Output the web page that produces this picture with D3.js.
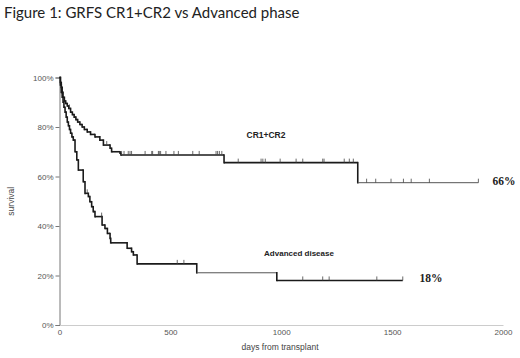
<!DOCTYPE html>
<meta charset="utf-8">
<style>
body { margin: 0; background: #fff; }
text { font-family: Arial, 'Liberation Sans', sans-serif; }
.axis text { font-size: 8px; fill: #555; }
</style>
<div class="chart"></div>
<script src="https://d3js.org/d3.v7.min.js"></script>
<script>
// Kaplan-Meier steps: day of drop, survival after drop
var crDays = [0, 4, 8, 12, 16, 22, 28, 35, 42, 50, 58, 66, 74, 82, 92, 102, 112, 125, 140, 160, 182, 198, 228, 235, 273, 277, 742, 1345];
var crSurv = [1, .98, .96, .94, .92, .905, .895, .885, .875, .86, .85, .84, .83, .82, .81, .80, .79, .78, .77, .76, .747, .727, .714, .70, .694, .687, .656, .575];
var crEnd = 1889;
var crCensor = [45, 213, 280, 291, 310, 318, 325, 386, 416, 420, 446, 450, 456, 480, 516, 536, 601, 630, 706, 713, 721, 732,
    806, 909, 917, 928, 995, 1067, 1097, 1187, 1193, 1284, 1307, 1325, 1385, 1426, 1495, 1551, 1586, 1668, 1889];

var advDays = [0, 4, 8, 12, 16, 20, 25, 30, 35, 40, 45, 50, 56, 62, 70, 78, 85, 107, 115, 130, 137, 145, 152, 160, 192, 205, 216, 228, 231, 305, 325, 333, 350, 619, 980];
var advSurv = [1, .97, .94, .92, .90, .88, .86, .84, .82, .805, .79, .775, .76, .747, .70, .667, .626, .579, .532, .519, .498, .478, .458, .438, .404, .39, .37, .35, .332, .31, .296, .283, .247, .211, .18];
var advEnd = 1548;
var advCensor = [125, 190, 531, 561, 1097, 1187, 1216, 1431, 1548];

var xTicks = [0, 500, 1000, 1500, 2000];
var yTicks = [0, .2, .4, .6, .8, 1];

var W = 520, H = 358;
var x = d3.scaleLinear().domain([0, 2000]).range([59.5, 503]);
var y = d3.scaleLinear().domain([0, 1]).range([325, 77.5]);

var svg = d3.select(".chart").append("svg")
    .attr("width", W)
    .attr("height", H);

svg.append("text")
    .attr("x", 4)
    .attr("y", 18)
    .style("font-family", "Lato, 'Open Sans', sans-serif")
    .style("font-size", "15px")
    .style("fill", "#222")
    .text("Figure 1: GRFS CR1+CR2 vs Advanced phase");

// axes
var yAxis = svg.append("g")
    .attr("class", "axis")
    .attr("transform", "translate(" + x(0) + ",0)")
    .call(d3.axisLeft(y).tickValues(yTicks).tickFormat(d3.format(".0%")).tickSize(4).tickPadding(2));
yAxis.select(".domain").attr("stroke", "#777");
yAxis.selectAll(".tick line").attr("stroke", "#777");

var xAxis = svg.append("g")
    .attr("class", "axis")
    .attr("transform", "translate(0," + y(0) + ")")
    .call(d3.axisBottom(x).tickValues(xTicks).tickFormat(d3.format("d")).tickSize(0).tickPadding(4));
xAxis.select(".domain").attr("stroke", "#ccc");

svg.append("text")
    .attr("x", 280)
    .attr("y", 350)
    .attr("text-anchor", "middle")
    .style("font-size", "8.5px")
    .style("fill", "#444")
    .text("days from transplant");

svg.append("text")
    .attr("transform", "translate(14," + (y(0.5)) + ") rotate(-90)")
    .attr("text-anchor", "middle")
    .style("font-size", "8.5px")
    .style("fill", "#444")
    .text("survival");

function survAt(days, surv, d) {
    var s = surv[0];
    for (var i = 0; i < days.length; i++) if (days[i] <= d) s = surv[i];
    return s;
}

function drawCurve(days, surv, end, censor, thinFrom, thinTo) {
    var g = svg.append("g");
    for (var i = 0; i < days.length; i++) {
        var d0 = days[i], d1 = i + 1 < days.length ? days[i + 1] : end;
        var thin = d0 >= thinFrom && d0 < thinTo;
        g.append("line")
            .attr("x1", x(d0)).attr("x2", x(d1))
            .attr("y1", y(surv[i])).attr("y2", y(surv[i]))
            .attr("stroke", thin ? "#555" : "#1a1a1a")
            .attr("stroke-width", thin ? 1 : 1.6);
        if (i + 1 < days.length) {
            g.append("line")
                .attr("x1", x(d1)).attr("x2", x(d1))
                .attr("y1", y(surv[i])).attr("y2", y(surv[i + 1]))
                .attr("stroke", "#1a1a1a")
                .attr("stroke-width", 1.6)
                .attr("stroke-linecap", "square");
        }
    }
    g.selectAll(".cens")
        .data(censor)
        .enter()
        .append("line")
        .attr("x1", function (d) { return x(d); })
        .attr("x2", function (d) { return x(d); })
        .attr("y1", function (d) { return y(survAt(days, surv, d)) - 4; })
        .attr("y2", function (d) { return y(survAt(days, surv, d)); })
        .attr("stroke", "#444")
        .attr("stroke-width", 0.8);
}

drawCurve(crDays, crSurv, crEnd, crCensor, 1345, 99999);
drawCurve(advDays, advSurv, advEnd, advCensor, 619, 980);

svg.append("text")
    .attr("x", 266).attr("y", 138)
    .attr("text-anchor", "middle")
    .style("font-size", "8.5px")
    .style("font-weight", "bold")
    .style("fill", "#222")
    .text("CR1+CR2");

svg.append("text")
    .attr("x", 299).attr("y", 256)
    .attr("text-anchor", "middle")
    .style("font-size", "8px")
    .style("font-weight", "bold")
    .style("fill", "#222")
    .text("Advanced disease");

svg.append("text")
    .attr("x", 504).attr("y", 185)
    .attr("text-anchor", "middle")
    .style("font-family", "'Liberation Serif', 'DejaVu Serif', serif")
    .style("font-size", "11.5px")
    .style("font-weight", "bold")
    .style("fill", "#222")
    .text("66%");

svg.append("text")
    .attr("x", 431).attr("y", 282)
    .attr("text-anchor", "middle")
    .style("font-family", "'Liberation Serif', 'DejaVu Serif', serif")
    .style("font-size", "11.5px")
    .style("font-weight", "bold")
    .style("fill", "#222")
    .text("18%");
</script>
